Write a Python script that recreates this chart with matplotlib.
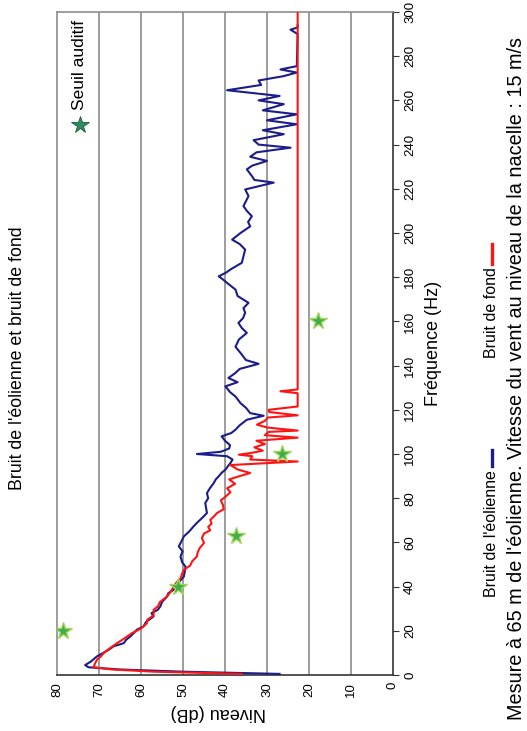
import matplotlib as mpl
mpl.use('Agg')
import matplotlib.pyplot as plt
from matplotlib.lines import Line2D

mpl.rcParams.update({'font.family': ['Liberation Sans', 'DejaVu Sans'], 'font.size': 8})

# Bruit de l'éolienne (blue): frequency (Hz), level (dB)
eol_freq = [0.5, 1.5, 2.5, 3.5, 4.5, 6, 8.4, 10, 11.4, 13, 14.4, 16, 17.5, 19, 20.5, 22, 24,
            26.5, 28, 29.5, 31, 33, 35.5, 37, 38.5, 40, 42, 44.5, 46.5, 49, 51, 53.6, 56,
            58.2, 60, 62.7, 65, 67.2, 69, 71.7, 73.3, 75.5, 77.8, 80, 82.3, 84.5, 86.8,
            88.5, 89.9, 91.5, 92.9, 94.5, 95.9, 97.5, 99, 100, 101, 102.5, 104, 106, 108,
            109.5, 111, 113, 115.5, 117.3, 118.5, 120.9, 123, 126, 128, 130.6, 132.5,
            134.4, 136.7, 138.5, 140.8, 142.5, 145.7, 148.5, 151.8, 154.8, 157, 159.3,
            161.5, 163.9, 166, 168.4, 171.5, 174.4, 177.4, 179, 180.4, 182, 183.5, 186.5,
            189.5, 192.5, 195, 197, 200, 203, 205, 207.6, 210, 212.2, 214.5, 216.7, 219.7,
            222.8, 224, 225.8, 228.8, 230.5, 232.6, 234.5, 236.5, 238.6, 240, 242, 244.7,
            246.5, 249.2, 251, 253.7, 255.5, 258.3, 260, 262, 264.6, 267, 269, 271, 272.6,
            274, 275.5, 290, 292, 293, 294]
eol_db = [27, 50, 65, 72.5, 73.3, 72, 70.5, 69, 67.7, 66.5, 64.1, 63.5, 62.5, 61.7, 61, 59.4,
          58.8, 57, 57.5, 56, 55.4, 55, 53.8, 53.5, 52.3, 51.4, 51, 49.8, 49.6, 49.4, 50.2,
          50.6, 50.1, 51, 50.5, 49.8, 48.5, 47.5, 46.6, 45.1, 44.3, 44.5, 44.7, 44, 44.3,
          43.6, 42.7, 42.2, 41.5, 40.8, 39.9, 39.3, 38.7, 38.2, 39.5, 46.7, 41, 39, 38.8,
          40, 40.8, 38.5, 37.5, 36.5, 34.8, 30.8, 34, 35, 36.3, 37.5, 38.8, 39.9, 37, 39.2,
          37.5, 36.5, 32, 35, 36.3, 37.5, 36.7, 34.8, 36, 36.8, 35.7, 35.2, 35.6, 34.4, 37,
          37.5, 39.5, 40.5, 41.5, 39.8, 38.7, 36, 35.6, 35.2, 36.5, 38.3, 36.3, 34, 34.5,
          33.6, 34.8, 35.6, 35, 34.4, 35.2, 28.4, 33, 33.6, 34.8, 33.5, 30, 34, 32.5, 24.4,
          32, 33.2, 26, 31, 22.9, 30, 22.9, 31, 26, 32, 27, 39.5, 31.4, 32, 26, 22.9, 26.8,
          22.9, 22.7, 24.4, 22.7, 22.7]

# Bruit de fond (red)
fond_freq = [0.5, 1.5, 2.5, 3.5, 5, 6.9, 8.5, 9.9, 12, 14.4, 16.5, 19, 21, 23.4, 25, 27, 29.5,
             31, 33, 35.5, 37.5, 40, 42, 44, 45.5, 47.6, 49.5, 51.5, 53.6, 55.5, 57.5, 59.7,
             62, 64, 65.5, 67, 68.5, 70.2, 72, 73.3, 75, 77, 79, 80.5, 82.7, 84.5, 86.5, 88.5,
             90, 91.4, 93, 95, 96.6, 97.5, 99, 99.7, 100.4, 101.5, 103, 104.5, 106, 107.4,
             108.5, 110, 110.6, 112, 113.3, 115, 116.5, 117.5, 119, 120, 121.5, 127.5, 128.4,
             129.2, 300]
fond_db = [36, 57, 67, 71.3, 71, 70.5, 69.5, 68.9, 67.5, 65.7, 64, 62.1, 60, 58.6, 58.5, 57,
           57, 56, 55.5, 53.8, 53, 52.2, 51.5, 50.5, 50.3, 49.8, 48.3, 47.8, 46.7, 46.5, 46,
           45, 45.5, 45, 43.5, 44, 43.2, 43.5, 42.5, 41.9, 40.3, 40.5, 41, 40, 38.7, 39.5,
           37.6, 39, 36.5, 34, 37, 38.7, 22.7, 34, 33.5, 36.7, 34, 31, 33, 30.5, 32.5, 22.7,
           30.5, 29.6, 22.7, 30, 32.4, 30.5, 29.8, 22.7, 29.5, 29.6, 22.7, 22.7, 26.8, 22.7,
           22.7]

# Seuil auditif (green stars)
seuil_freq = [20, 40, 63, 100, 160]
seuil_db = [78.5, 51.1, 37.5, 26.5, 17.9]

level_ticks = [0, 10, 20, 30, 40, 50, 60, 70, 80]
freq_ticks = list(range(0, 301, 20))

BLUE = '#1c1c8a'
RED = '#ff1414'
GRID = '#8c8c8c'

fig = plt.figure(figsize=(5.27, 7.31), dpi=100, facecolor='white')
W, H = 527, 731
# chart drawn turned a quarter turn: level runs left->right (80 -> 0), frequency bottom->top
ax = fig.add_axes([57 / W, 1 - 675 / H, (393 - 57) / W, (675 - 12) / H])
ax.set_xlim(80, 0)
ax.set_ylim(0, 300)

for v in level_ticks[1:-1]:
    ax.axvline(v, color=GRID, lw=1.2, zorder=1)

ax.plot(eol_db, eol_freq, color=BLUE, lw=1.5, zorder=3)
ax.plot(fond_db, fond_freq, color=RED, lw=1.5, zorder=4)
ax.plot(seuil_db, seuil_freq, ls='none', marker='*', ms=13, mfc='#3fae4a', mec='#a5d45e',
        mew=1.0, zorder=5)

# legend inside for the threshold
ax.plot([0.068], [0.83], transform=ax.transAxes, marker='*', ms=13, mfc='#2e8b5e',
        mec='#1d5a3a', mew=0.6, ls='none', clip_on=False, zorder=6)
ax.text(0.068, 0.852, 'Seuil auditif', transform=ax.transAxes, rotation=90,
        ha='center', va='bottom', fontsize=12.5)

for s in ('left', 'top'):
    ax.spines[s].set_color(GRID)
    ax.spines[s].set_linewidth(1.2)
for s in ('right', 'bottom'):
    ax.spines[s].set_color('#333333')
    ax.spines[s].set_linewidth(1.2)

ax.set_xticks(level_ticks)
ax.set_xticklabels([str(v) for v in level_ticks], rotation=90, fontsize=9.5)
ax.yaxis.tick_right()
ax.set_yticks(freq_ticks)
ax.set_yticklabels([str(v) for v in freq_ticks], rotation=90, va='center', fontsize=9.5)
ax.tick_params(axis='x', length=0, pad=5)
ax.tick_params(axis='y', length=4, width=0.8, direction='out', color='#333333', pad=4)

ax.set_xlabel('Niveau (dB)', rotation=180, fontsize=13)
ax.xaxis.set_label_coords(0.48, -0.056)
ax.xaxis.label.set_va('center')
ax.yaxis.set_label_position('right')
ax.set_ylabel('Fréquence (Hz)', rotation=90, fontsize=13)
ax.yaxis.set_label_coords((433 - 57) / 336, 0.5)
ax.yaxis.label.set_va('center')

fig.text(18 / W, 1 - 358 / H, "Bruit de l'éolienne et bruit de fond", rotation=90,
         ha='center', va='center', fontsize=12.8)

# series legend (vertical text with key after the label)
fig.text(492 / W, 1 - 597 / H, "Bruit de l'éolienne", rotation=90, ha='center',
         va='bottom', fontsize=11.5)
fig.add_artist(Line2D([492 / W, 492 / W], [1 - 466 / H, 1 - 450 / H], color=BLUE, lw=2.4))
fig.text(492 / W, 1 - 358 / H, 'Bruit de fond', rotation=90, ha='center',
         va='bottom', fontsize=11.5)
fig.add_artist(Line2D([492 / W, 492 / W], [1 - 264 / H, 1 - 244 / H], color=RED, lw=2.4))

fig.text(516 / W, 1 - 378 / H,
         "Mesure à 65 m de l'éolienne. Vitesse du vent au niveau de la nacelle : 15 m/s",
         rotation=90, ha='center', va='center', fontsize=14.3)

fig.savefig('out.png', dpi=100, facecolor='white')
